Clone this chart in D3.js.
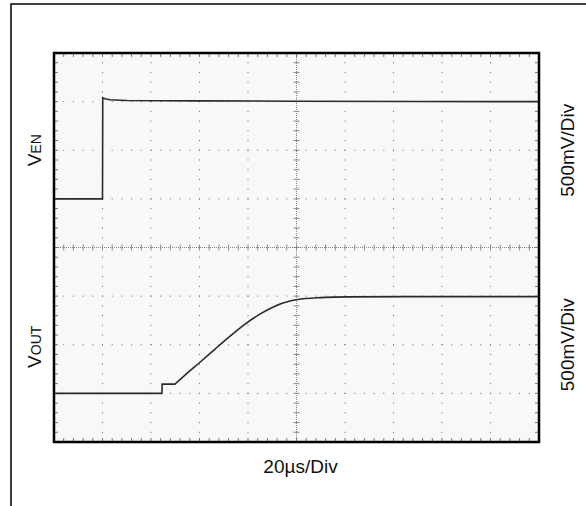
<!DOCTYPE html>
<html>
<head>
<meta charset="utf-8">
<script src="https://cdn.jsdelivr.net/npm/d3@7"></script>
<style>
  body { margin: 0; background: #fff; }
  text { font-family: "Liberation Sans", Arial, sans-serif; fill: #111; }
</style>
</head>
<body>
<div id="scope"></div>
<script>
// time in us, voltage in V (500mV/div, 20us/div)
var venTime = [0, 20, 20.1, 21, 23, 30, 60, 100, 150, 200];
var venVolt = [0, 0, 1.04, 1.03, 1.02, 1.012, 1.008, 1.004, 1.002, 1.0];

var voutTime = [0, 44.5, 44.6, 49.9, 54.0, 60.2, 66.4, 72.6, 78.8, 84.9, 91.1, 97.3, 103.5, 109.7, 122, 160, 200];
var voutVolt = [0, 0, 0.095, 0.095, 0.187, 0.32, 0.455, 0.588, 0.712, 0.815, 0.897, 0.949, 0.975, 0.985, 0.992, 0.995, 0.995];

var xLabel = "20\u00b5s/Div";
var yLabels = ["500mV/Div", "500mV/Div"];
var venOffset = 5, voutOffset = 1; // divisions from bottom for 0V

var width = 586, height = 506;
var svg = d3.select("#scope").append("svg")
    .attr("width", width)
    .attr("height", height);

// outer frame (top + left only)
svg.append("path")
  .attr("d", "M11 506 V4 H586")
  .attr("fill", "none")
  .attr("stroke", "black")
  .attr("stroke-width", 1.5);

var pL = 54, pR = 539, pT = 53, pB = 442;
var x = d3.scaleLinear().domain([0, 200]).range([pL, pR]);
var y = d3.scaleLinear().domain([0, 8]).range([pB, pT]);

var g = svg.append("g");

g.append("rect")
  .attr("x", pL).attr("y", pT)
  .attr("width", pR - pL).attr("height", pB - pT)
  .attr("fill", "#f8f8f8");

var xMinor = d3.range(0, 201, 4);
var yMinor = d3.range(0, 8.001, 0.2);
var xMajor = d3.range(20, 200, 20);
var yMajor = d3.range(1, 8, 1);

// dotted grid
xMajor.filter(function(d){ return d != 100; }).forEach(function(xv){
  g.selectAll(null).data(yMinor).enter().append("rect")
    .attr("x", x(xv) - 0.5).attr("y", function(d){ return y(d) - 0.5; })
    .attr("width", 1).attr("height", 1).attr("fill", "#666");
});
yMajor.filter(function(d){ return d != 4; }).forEach(function(yv){
  g.selectAll(null).data(xMinor).enter().append("rect")
    .attr("x", function(d){ return x(d) - 0.5; }).attr("y", y(yv) - 0.5)
    .attr("width", 1).attr("height", 1).attr("fill", "#666");
});

// center cross
g.append("line").attr("x1", x(100)).attr("x2", x(100)).attr("y1", pT).attr("y2", pB)
  .attr("stroke", "#888").attr("stroke-dasharray", "1,1");
g.append("line").attr("x1", pL).attr("x2", pR).attr("y1", y(4)).attr("y2", y(4))
  .attr("stroke", "#888").attr("stroke-dasharray", "1,1");
g.selectAll(null).data(yMinor).enter().append("line")
  .attr("x1", x(100) - 3).attr("x2", x(100) + 3)
  .attr("y1", function(d){ return y(d); }).attr("y2", function(d){ return y(d); })
  .attr("stroke", "#888");
g.selectAll(null).data(xMinor).enter().append("line")
  .attr("y1", y(4) - 3).attr("y2", y(4) + 3)
  .attr("x1", function(d){ return x(d); }).attr("x2", function(d){ return x(d); })
  .attr("stroke", "#888");

// edge minor ticks
g.selectAll(null).data(xMinor).enter().append("line")
  .attr("x1", function(d){ return x(d); }).attr("x2", function(d){ return x(d); })
  .attr("y1", pT).attr("y2", pT + 4).attr("stroke", "#777");
g.selectAll(null).data(xMinor).enter().append("line")
  .attr("x1", function(d){ return x(d); }).attr("x2", function(d){ return x(d); })
  .attr("y1", pB).attr("y2", pB - 4).attr("stroke", "#777");
g.selectAll(null).data(yMinor).enter().append("line")
  .attr("y1", function(d){ return y(d); }).attr("y2", function(d){ return y(d); })
  .attr("x1", pL).attr("x2", pL + 4).attr("stroke", "#777");
g.selectAll(null).data(yMinor).enter().append("line")
  .attr("y1", function(d){ return y(d); }).attr("y2", function(d){ return y(d); })
  .attr("x1", pR).attr("x2", pR - 4).attr("stroke", "#777");

// traces
var line = d3.line().x(function(d){ return x(d[0]); }).y(function(d){ return y(d[1]); });
var venPts = venTime.map(function(t, i){ return [t, venOffset + venVolt[i] / 0.5]; });
var voutPts = voutTime.map(function(t, i){ return [t, voutOffset + voutVolt[i] / 0.5]; });
var voutLine = d3.line().curve(d3.curveMonotoneX)
  .x(function(d){ return x(d[0]); }).y(function(d){ return y(d[1]); });

g.append("path").attr("d", line(venPts))
  .attr("fill", "none").attr("stroke", "#2a2a2a").attr("stroke-width", 1.6);
g.append("path").attr("d", line(voutPts.slice(0, 4)) + "L" + voutLine(voutPts.slice(3)).slice(1))
  .attr("fill", "none").attr("stroke", "#2a2a2a").attr("stroke-width", 1.6);

// border
g.append("rect")
  .attr("x", pL).attr("y", pT)
  .attr("width", pR - pL).attr("height", pB - pT)
  .attr("fill", "none").attr("stroke", "black").attr("stroke-width", 2.5);

// labels
function chanLabel(main, sub, cx, cy) {
  var t = svg.append("text")
    .attr("transform", "translate(" + cx + "," + cy + ") rotate(-90)")
    .attr("text-anchor", "middle")
    .attr("font-size", 19);
  t.append("tspan").text(main);
  t.append("tspan").attr("font-size", 14).text(sub);
}
chanLabel("V", "EN", 41, y(6));
chanLabel("V", "OUT", 41, y(2) + 2);

[6, 2].forEach(function(d, i){
  svg.append("text")
    .attr("transform", "translate(574," + y(d) + ") rotate(-90)")
    .attr("text-anchor", "middle")
    .attr("font-size", 19)
    .text(yLabels[i]);
});

svg.append("text")
  .attr("x", x(100) + 4).attr("y", 473)
  .attr("text-anchor", "middle")
  .attr("font-size", 19)
  .text(xLabel);
</script>
</body>
</html>
